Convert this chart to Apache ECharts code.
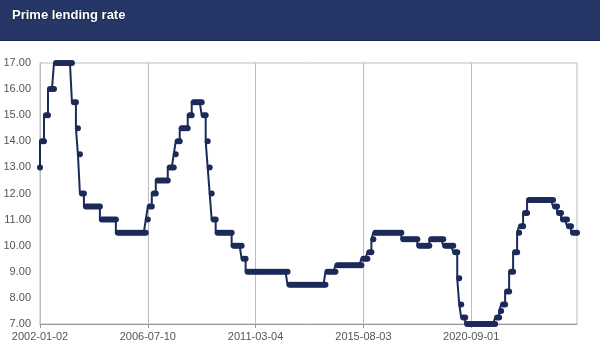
<!DOCTYPE html>
<html>
<head>
<meta charset="utf-8">
<script src="https://cdn.jsdelivr.net/npm/echarts@6/dist/echarts.min.js"></script>
<style>
  html, body { margin: 0; padding: 0; background: #fff; }
  #chart { width: 600px; height: 353px; }
</style>
</head>
<body>
<div id="chart"></div>
<script>
// dates shown under the x axis, one every 54 observations
const tickLabels = ["2002-01-02", "2006-07-10", "2011-03-04", "2015-08-03", "2020-09-01"];
const labelEvery = 54;

const rates = [
  13,
  14, 14,
  15, 15,
  16, 16, 16,
  17, 17, 17, 17, 17, 17, 17, 17, 17,
  15.5, 15.5,
  14.5,
  13.5,
  12, 12,
  11.5, 11.5, 11.5, 11.5, 11.5, 11.5, 11.5, 11.5,
  11, 11, 11, 11, 11, 11, 11, 11,
  10.5, 10.5, 10.5, 10.5, 10.5, 10.5, 10.5, 10.5, 10.5, 10.5, 10.5, 10.5, 10.5, 10.5, 10.5,
  11,
  11.5, 11.5,
  12, 12,
  12.5, 12.5, 12.5, 12.5, 12.5, 12.5,
  13, 13, 13,
  13.5,
  14, 14,
  14.5, 14.5, 14.5, 14.5,
  15, 15,
  15.5, 15.5, 15.5, 15.5, 15.5,
  15, 15,
  14,
  13,
  12,
  11, 11,
  10.5, 10.5, 10.5, 10.5, 10.5, 10.5, 10.5, 10.5,
  10, 10, 10, 10, 10,
  9.5, 9.5,
  9, 9, 9, 9, 9, 9, 9, 9, 9, 9, 9, 9, 9, 9, 9, 9, 9, 9, 9, 9, 9,
  8.5, 8.5, 8.5, 8.5, 8.5, 8.5, 8.5, 8.5, 8.5, 8.5, 8.5, 8.5, 8.5, 8.5, 8.5, 8.5, 8.5, 8.5, 8.5,
  9, 9, 9, 9, 9,
  9.25, 9.25, 9.25, 9.25, 9.25, 9.25, 9.25, 9.25, 9.25, 9.25, 9.25, 9.25, 9.25,
  9.5, 9.5, 9.5,
  9.75, 9.75,
  10.25,
  10.5, 10.5, 10.5, 10.5, 10.5, 10.5, 10.5, 10.5, 10.5, 10.5, 10.5, 10.5, 10.5, 10.5,
  10.25, 10.25, 10.25, 10.25, 10.25, 10.25, 10.25, 10.25,
  10, 10, 10, 10, 10, 10,
  10.25, 10.25, 10.25, 10.25, 10.25, 10.25, 10.25,
  10, 10, 10, 10, 10,
  9.75, 9.75,
  8.75,
  7.75,
  7.25, 7.25,
  7, 7, 7, 7, 7, 7, 7, 7, 7, 7, 7, 7, 7, 7, 7,
  7.25, 7.25,
  7.5,
  7.75, 7.75,
  8.25, 8.25,
  9, 9,
  9.75, 9.75,
  10.5,
  10.75, 10.75,
  11.25, 11.25,
  11.75, 11.75, 11.75, 11.75, 11.75, 11.75, 11.75, 11.75, 11.75, 11.75, 11.75, 11.75, 11.75,
  11.5, 11.5,
  11.25, 11.25,
  11, 11, 11,
  10.75, 10.75,
  10.5, 10.5, 10.5
];

// observation dates: the labelled dates, with the ones in between spread evenly
const anchors = tickLabels.map(d => Date.parse(d + "T00:00:00Z"));
const dates = rates.map((_, i) => {
  const seg = Math.min(Math.floor(i / labelEvery), anchors.length - 2);
  const t0 = anchors[seg], t1 = anchors[seg + 1];
  const t = t0 + (t1 - t0) * (i - seg * labelEvery) / labelEvery;
  return new Date(t).toISOString().slice(0, 10);
});

const chart = echarts.init(document.getElementById("chart"));

chart.setOption({
  animation: false,
  textStyle: { fontFamily: "Liberation Sans, Arial, sans-serif" },
  graphic: [
    {
      type: "rect",
      shape: { x: 0, y: 0, width: 600, height: 40 },
      style: { fill: "#263767" },
      z: -1
    },
    {
      type: "rect",
      shape: { x: 0, y: 40, width: 600, height: 1 },
      style: { fill: "#142350" },
      z: -1
    }
  ],
  title: {
    text: "Prime lending rate",
    left: 7,
    top: 4,
    textStyle: {
      color: "#fff",
      fontSize: 13,
      fontWeight: "bold",
      textShadowColor: "#0a1430",
      textShadowBlur: 2
    }
  },
  grid: {
    left: 40,
    right: 23,
    top: 63,
    bottom: 29,
    show: true,
    borderColor: "#bdbdbd",
    borderWidth: 1
  },
  xAxis: {
    type: "category",
    data: dates,
    boundaryGap: false,
    axisLine: { lineStyle: { color: "#999" } },
    axisTick: { interval: labelEvery - 1, length: 4, lineStyle: { color: "#999" } },
    axisLabel: { interval: labelEvery - 1, color: "#555", fontSize: 11, margin: 7 },
    splitLine: { show: true, interval: labelEvery - 1, lineStyle: { color: "#bdbdbd" } }
  },
  yAxis: {
    type: "value",
    min: 7,
    max: 17,
    interval: 1,
    axisLine: { show: true, lineStyle: { color: "#bdbdbd" } },
    axisTick: { show: false },
    splitLine: { show: false },
    axisLabel: {
      color: "#555",
      fontSize: 11,
      margin: 9,
      formatter: v => v.toFixed(2)
    }
  },
  series: [
    {
      type: "line",
      data: rates,
      step: "start",
      symbol: "circle",
      symbolSize: 6,
      showAllSymbol: true,
      itemStyle: { color: "#1c2a5a" },
      lineStyle: { color: "#1c2a5a", width: 2 }
    }
  ]
});
</script>
</body>
</html>
